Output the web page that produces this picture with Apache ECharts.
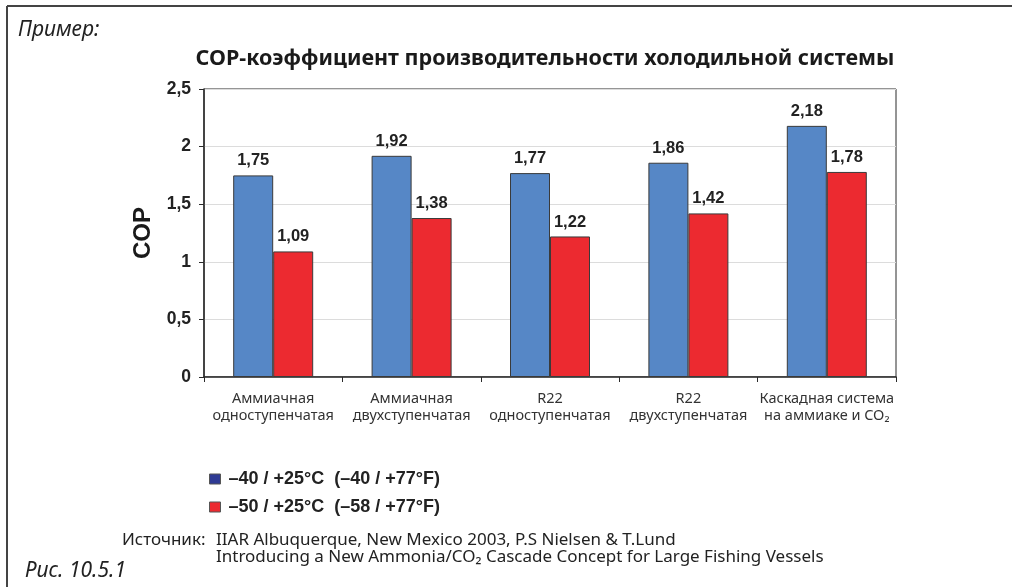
<!DOCTYPE html>
<html>
<head>
<meta charset="utf-8">
<script src="https://cdn.jsdelivr.net/npm/echarts@6/dist/echarts.min.js"></script>
<style>
  html, body { margin: 0; padding: 0; background: #fff; }
  #chart { width: 1012px; height: 587px; }
</style>
</head>
<body>
<div id="chart"></div>
<script>
// Refrigeration system types (x-axis categories)
const categories = [
  'Аммиачная\nодноступенчатая',
  'Аммиачная\nдвухступенчатая',
  'R22\nодноступенчатая',
  'R22\nдвухступенчатая',
  'Каскадная система\nна аммиаке и CO₂'
];

// Series names (operating conditions)
const seriesNames = [
  '–40 / +25°C  (–40 / +77°F)',
  '–50 / +25°C  (–58 / +77°F)'
];

// COP values per series
const copMinus40 = [1.75, 1.92, 1.77, 1.86, 2.18];
const copMinus50 = [1.09, 1.38, 1.22, 1.42, 1.78];

// Y-axis range
const yMin = 0;
const yMax = 2.5;
const yStep = 0.5;

const comma = v => String(v).replace('.', ',');

const chart = echarts.init(document.getElementById('chart'), null, { renderer: 'canvas' });

const barLabel = {
  show: true,
  position: 'top',
  distance: 6,
  fontFamily: 'Liberation Sans, Arial, sans-serif',
  fontWeight: 'bold',
  fontSize: 16.5,
  color: '#222',
  formatter: p => comma(p.value)
};

chart.setOption({
  animation: false,
  backgroundColor: '#fff',
  title: {
    text: 'COP-коэффициент производительности холодильной системы',
    left: 540,
    textAlign: 'center',
    top: 43,
    textStyle: {
      fontFamily: 'Noto Sans, Open Sans, sans-serif',
      fontWeight: 'bold',
      fontSize: 21.5,
      color: '#1a1a1a'
    }
  },
  legend: {
    orient: 'vertical',
    left: 204,
    top: 465,
    itemWidth: 11,
    itemHeight: 10,
    itemGap: 10,
    icon: 'rect',
    textStyle: {
      fontFamily: 'Liberation Sans, Arial, sans-serif',
      fontWeight: 'bold',
      fontSize: 18,
      color: '#222',
      lineHeight: 18,
      padding: [0, 0, 0, 3]
    },
    data: [
      { name: seriesNames[0], itemStyle: { color: '#2E3A94', borderColor: '#555', borderWidth: 1 } },
      { name: seriesNames[1], itemStyle: { color: '#EC2A30', borderColor: '#555', borderWidth: 1 } }
    ]
  },
  grid: {
    left: 204,
    right: 116,
    top: 89,
    bottom: 210,
    show: true,
    borderColor: '#2a2a2a',
    borderWidth: 1,
    containLabel: false
  },
  xAxis: {
    type: 'category',
    data: categories,
    axisLine: { show: true, lineStyle: { color: '#2a2a2a', width: 1.5 } },
    axisTick: { show: true, length: 5, alignWithLabel: false, lineStyle: { color: '#2a2a2a' } },
    axisLabel: {
      margin: 13,
      fontFamily: 'Noto Sans, Open Sans, sans-serif',
      fontSize: 14.5,
      lineHeight: 17,
      color: '#333',
      interval: 0
    }
  },
  yAxis: {
    type: 'value',
    min: yMin,
    max: yMax,
    interval: yStep,
    name: 'COP',
    nameLocation: 'middle',
    nameGap: 48,
    nameTextStyle: {
      fontFamily: 'Liberation Sans, Arial, sans-serif',
      fontWeight: 'bold',
      fontSize: 24,
      color: '#1a1a1a'
    },
    axisLine: { show: true, lineStyle: { color: '#2a2a2a', width: 1.5 } },
    axisTick: { show: true, inside: false, length: 5, lineStyle: { color: '#2a2a2a' } },
    axisLabel: {
      margin: 13,
      fontFamily: 'Liberation Sans, Arial, sans-serif',
      fontWeight: 'bold',
      fontSize: 17.5,
      color: '#222',
      formatter: v => comma(v)
    },
    splitLine: { show: true, lineStyle: { color: '#dcdcdc', width: 1 } }
  },
  series: [
    {
      name: seriesNames[0],
      type: 'bar',
      data: copMinus40,
      barWidth: 40,
      barGap: '0%',
      itemStyle: { color: '#5687C6', borderColor: '#3a3a3a', borderWidth: 1 },
      label: barLabel
    },
    {
      name: seriesNames[1],
      type: 'bar',
      data: copMinus50,
      barWidth: 40,
      barGap: '0%',
      itemStyle: { color: '#EC2A30', borderColor: '#3a3a3a', borderWidth: 1 },
      label: barLabel
    }
  ],
  graphic: [
    // page frame (left and top edges)
    { type: 'line', shape: { x1: 7, y1: 6, x2: 1012, y2: 6 }, style: { stroke: '#444', lineWidth: 2 } },
    { type: 'line', shape: { x1: 7, y1: 6, x2: 7, y2: 587 }, style: { stroke: '#444', lineWidth: 2 } },
    {
      type: 'text', left: 18, top: 20,
      style: { text: 'Пример:', font: 'italic 21px "Noto Sans", "Open Sans", sans-serif', fill: '#222' }
    },
    {
      type: 'text', left: 25, top: 561,
      style: { text: 'Рис. 10.5.1', font: 'italic 21px "Noto Sans", "Open Sans", sans-serif', fill: '#222' }
    },
    {
      type: 'text', left: 122, top: 532,
      style: { text: 'Источник:', font: '17px "Noto Sans", "Open Sans", sans-serif', fill: '#222' }
    },
    {
      type: 'text', left: 216, top: 532,
      style: {
        text: 'IIAR Albuquerque, New Mexico 2003, P.S Nielsen & T.Lund\nIntroducing a New Ammonia/CO₂ Cascade Concept for Large Fishing Vessels',
        font: '17px "Noto Sans", "Open Sans", sans-serif',
        lineHeight: 17,
        fill: '#222'
      }
    }
  ]
});
</script>
</body>
</html>
